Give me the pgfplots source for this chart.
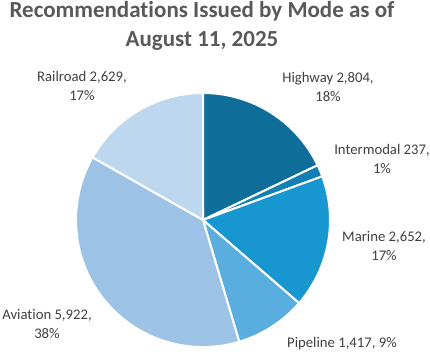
\documentclass[border=0pt]{standalone}
\usepackage{pgfplots}
\pgfplotsset{compat=1.18}
\usepackage{pgfplotstable}
\usepackage{fontspec}
\setmainfont{Carlito}[Ligatures={NoCommon}]
\definecolor{cHighway}{HTML}{0F6E99}
\definecolor{cIntermodal}{HTML}{1380B5}
\definecolor{cMarine}{HTML}{1796CF}
\definecolor{cPipeline}{HTML}{5AAEDF}
\definecolor{cAviation}{HTML}{9CC3E5}
\definecolor{cRailroad}{HTML}{BDD7EE}
\definecolor{titlegray}{HTML}{595959}
\definecolor{labelgray}{HTML}{404040}

\pgfplotstableread[col sep=comma]{
mode,value,col
Highway,2804,cHighway
Intermodal,237,cIntermodal
Marine,2652,cMarine
Pipeline,1417,cPipeline
Aviation,5922,cAviation
Railroad,2629,cRailroad
}\piedata

% cumulative angles (clockwise from 12 o'clock)
\newcommand\computeangles{%
  \pgfmathsetmacro\total{0}%
  \foreach \i in {0,...,5}{%
    \pgfplotstablegetelem{\i}{value}\of\piedata
    \pgfmathsetmacro\t{\total+\pgfplotsretval}%
    \global\let\total\t
  }%
  \gdef\curang{90}%
  \foreach \i in {0,...,5}{%
    \pgfplotstablegetelem{\i}{value}\of\piedata
    \pgfmathsetmacro\endang{\curang-\pgfplotsretval/\total*360}%
    \expandafter\xdef\csname sa\i\endcsname{\curang}%
    \expandafter\xdef\csname ea\i\endcsname{\endang}%
    \pgfplotstablegetelem{\i}{col}\of\piedata
    \expandafter\xdef\csname co\i\endcsname{\pgfplotsretval}%
    \global\let\curang\endang
  }%
}

\begin{document}
\computeangles
\begin{tikzpicture}
\begin{axis}[
  width=430pt, height=351pt, scale only axis,
  xmin=0, xmax=430, ymin=0, ymax=351,
  hide axis, clip=false,
]
\pgfplotsinvokeforeach{0,...,5}{%
  \fill[fill=\csname co#1\endcsname, draw=white, line width=2pt, line join=round]
    (axis cs:203,131) -- ++(\csname sa#1\endcsname:127pt)
    arc[start angle=\csname sa#1\endcsname, end angle=\csname ea#1\endcsname, radius=127pt] -- cycle;
}
% title
\node[anchor=base, font=\bfseries\fontsize{23}{27}\selectfont, text=titlegray] at (axis cs:202,333.5) {Recommendations Issued by Mode as of};
\node[anchor=base, font=\bfseries\fontsize{23}{27}\selectfont, text=titlegray] at (axis cs:202,304.5) {August 11, 2025};
% data labels
\tikzset{lbl/.style={align=center, font=\fontsize{14.7}{18.5}\selectfont, text=labelgray, inner sep=0pt}}
\node[lbl] at (axis cs:328,264) {Highway 2,804,\\18\%};
\node[lbl] at (axis cs:382,192) {Intermodal 237,\\1\%};
\node[lbl] at (axis cs:384,105) {Marine 2,652,\\17\%};
\node[lbl] at (axis cs:342,7) {Pipeline 1,417, 9\%};
\node[lbl] at (axis cs:47,27) {Aviation 5,922,\\38\%};
\node[lbl] at (axis cs:82,265) {Railroad 2,629,\\17\%};
\end{axis}
\pgfresetboundingbox
\path (0,0) rectangle (430pt,351pt);
\end{tikzpicture}
\end{document}
